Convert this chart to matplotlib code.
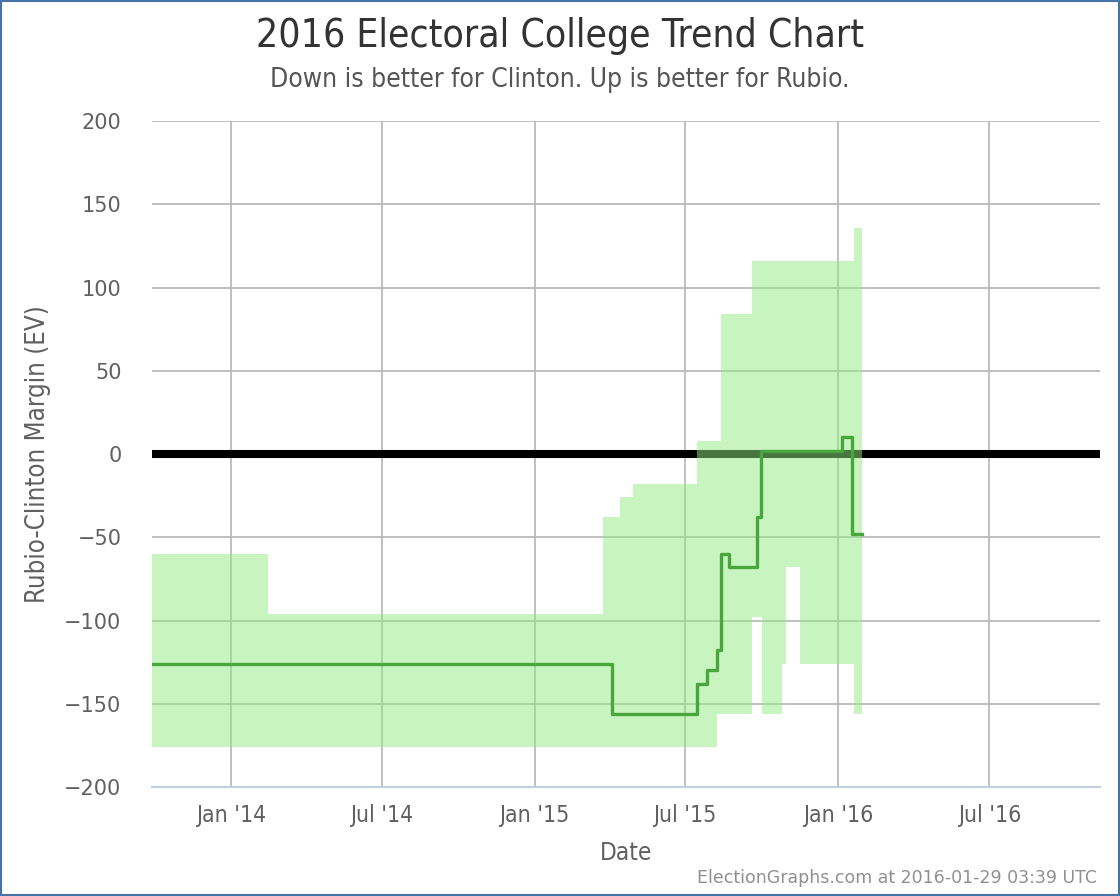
import matplotlib
matplotlib.use("Agg")
import matplotlib.pyplot as plt
from matplotlib.patches import Rectangle
import numpy as np

# ---------------- data ----------------
band_dates = ["2013-09-28", "2014-02-15", "2015-03-24", "2015-04-14", "2015-04-30",
              "2015-07-15", "2015-08-08", "2015-08-13", "2015-09-19", "2015-10-02",
              "2015-10-25", "2015-10-31", "2015-11-16", "2016-01-20", "2016-01-30"]
band_top = [-60, -96, -38, -26, -18, 8, 8, 84, 116, 116, 116, 116, 116, 136, 136]
band_bottom = [-176, -176, -176, -176, -176, -176, -156, -156, -98, -156, -126, -68, -126, -156, -156]

line_dates = ["2013-09-28", "2015-04-04", "2015-07-15", "2015-07-27", "2015-08-08",
              "2015-08-13", "2015-08-23", "2015-09-26", "2015-09-30", "2016-01-06",
              "2016-01-18", "2016-01-30"]
line_values = [-126, -156, -138, -130, -118, -60, -68, -38, 2, 10, -48, -48]

xtick_dates = ["2014-01-01", "2014-07-01", "2015-01-01", "2015-07-01", "2016-01-01", "2016-07-01"]
xtick_labels = ["Jan '14", "Jul '14", "Jan '15", "Jul '15", "Jan '16", "Jul '16"]
yticks = [-200, -150, -100, -50, 0, 50, 100, 150, 200]

title = "2016 Electoral College Trend Chart"
subtitle = "Down is better for Clinton. Up is better for Rubio."
ylabel = "Rubio-Clinton Margin (EV)"
xlabel = "Date"
footer = "ElectionGraphs.com at 2016-01-29 03:39 UTC"

# ---------------- figure ----------------
W, H = 1120, 896
fig = plt.figure(figsize=(W / 100, H / 100), dpi=100)
L, R, T, B = 152, 1100, 121, 787
ax = fig.add_axes([L / W, 1 - B / H, (R - L) / W, (B - T) / H])

bd = np.array([np.datetime64(d) for d in band_dates])
ld = np.array([np.datetime64(d) for d in line_dates])

ax.axhline(0, color="black", lw=5.8, zorder=2)
ax.fill_between(bd, band_bottom, band_top, step="post", facecolor="#93eb81",
                alpha=0.5, lw=0, zorder=3)
ax.step(ld, line_values, where="post", color="#47a73c", lw=2.4, zorder=4)

ax.set_xlim(np.datetime64("2013-09-28"), np.datetime64("2016-11-11"))
ax.set_ylim(-200, 200)

ax.set_xticks([np.datetime64(d) for d in xtick_dates])
ax.set_xticklabels(xtick_labels)
ax.set_yticks(yticks)
ax.set_yticklabels([("\u2212" + str(-v)) if v < 0 else str(v) for v in yticks])

ax.grid(True, color="#b5b5b5", lw=1.2, zorder=0)
ax.set_axisbelow(True)
for s in ["top", "right", "left"]:
    ax.spines[s].set_visible(False)
ax.spines["bottom"].set_color("#c0d0e0")
ax.spines["bottom"].set_linewidth(1.5)
ax.spines["bottom"].set_zorder(5)

ax.tick_params(axis="both", length=0)
ax.tick_params(axis="y", pad=22, labelsize=15, labelcolor="#606060")
ax.tick_params(axis="x", pad=12, labelsize=16.5, labelcolor="#606060")
for lab in ax.get_xticklabels():
    lab.set_fontstretch("condensed")

fig.text(0.5, 1 - 36 / H, title, ha="center", va="center", fontsize=28,
         color="#333333", fontstretch="condensed")
fig.text(0.5, 1 - 80 / H, subtitle, ha="center", va="center", fontsize=19,
         color="#555555", fontstretch="condensed")
fig.text(38 / W, 1 - 454 / H, ylabel, ha="center", va="center", rotation=90,
         fontsize=18.5, color="#606060", fontstretch="condensed")
fig.text(626 / W, 1 - 853 / H, xlabel, ha="center", va="center", fontsize=17.5,
         color="#606060", fontstretch="condensed")
fig.text(1097 / W, 1 - 878 / H, footer, ha="right", va="center", fontsize=12.5,
         color="#909090")

fig.add_artist(Rectangle((1 / W, 1 / H), (W - 2) / W, (H - 2) / H,
                         transform=fig.transFigure, fill=False,
                         edgecolor="#4572a7", lw=1.5))

fig.savefig("out.png", dpi=100)
